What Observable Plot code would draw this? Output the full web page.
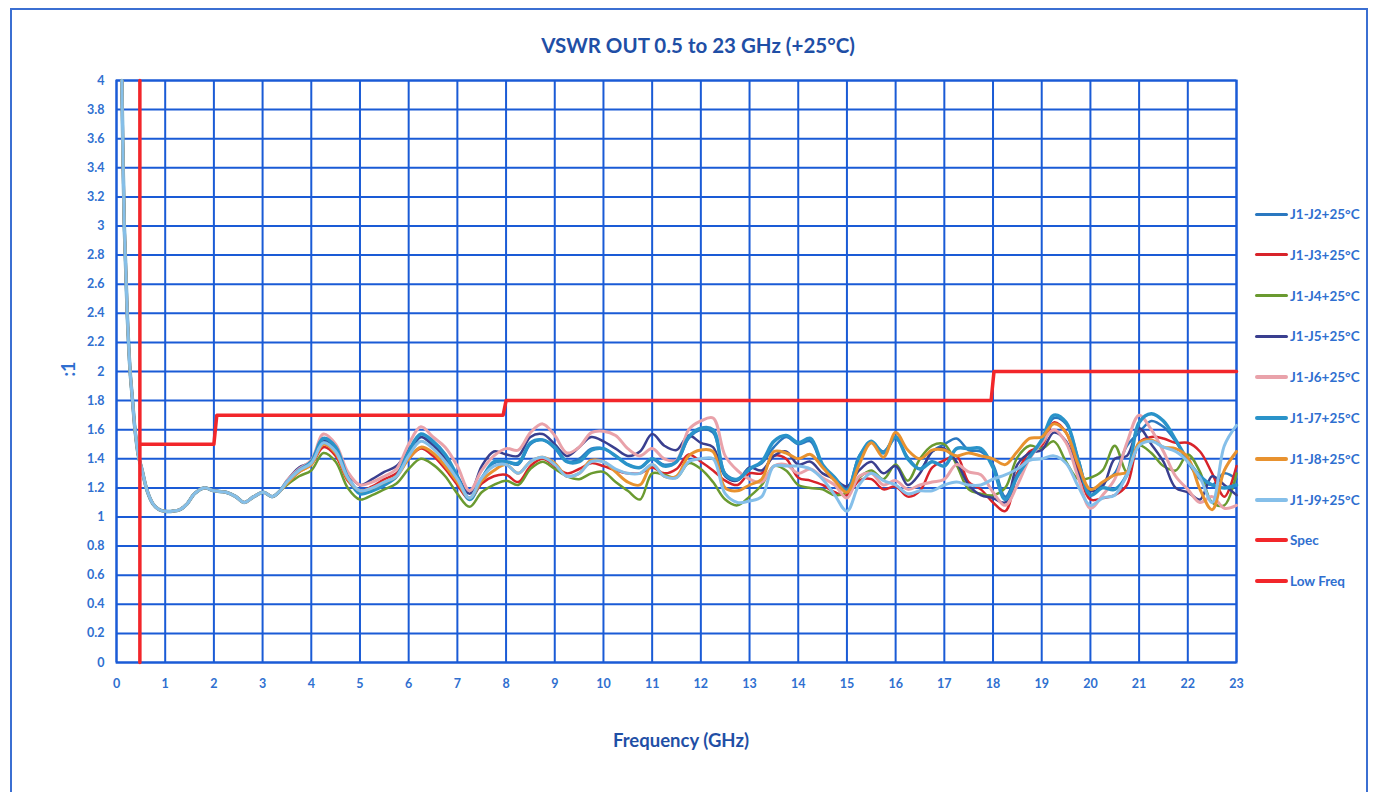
<!DOCTYPE html>
<html>
<head>
<meta charset="utf-8">
<script src="https://cdn.jsdelivr.net/npm/d3@7"></script>
<script src="https://cdn.jsdelivr.net/npm/@observablehq/plot@0.6"></script>
<style>
  html, body { margin: 0; padding: 0; background: #fff; }
  #wrap { position: relative; width: 1380px; height: 792px; overflow: hidden; font-family: Lato, "Open Sans", sans-serif; }
  #border { position: absolute; left: 10px; top: 8px; width: 1358px; height: 800px; border: 2px solid #3b6fd2; box-sizing: border-box; }
  #title { position: absolute; top: 33px; left: 0; width: 1396px; text-align: center; font-weight: 700; font-size: 20.5px; color: #1f4fa6; }
  #xlabel { position: absolute; top: 729px; left: 0; width: 1362px; text-align: center; font-weight: 700; font-size: 18.5px; color: #1f4fa6; }
  #ylabel { position: absolute; left: 60px; top: 358px; transform: rotate(-90deg); font-weight: 700; font-size: 18px; color: #2f6fd0; }
  #plot { position: absolute; left: 0; top: 0; }
  #plot svg text { font-family: Lato, "Open Sans", sans-serif; font-weight: 700; }
  .lg { position: absolute; left: 1255px; height: 16px; display: flex; align-items: center; font-size: 13.5px; font-weight: 700; color: #2f6fd0; white-space: nowrap; }
  .lg i { display: inline-block; width: 33px; margin-right: 2px; border-radius: 2px; }
  #warn { position: absolute; left: 20px; top: 760px; color: red; font-size: 14px; }
</style>
</head>
<body>
<div id="wrap">
  <div id="border"></div>
  <div id="title">VSWR OUT 0.5 to 23 GHz (+25°C)</div>
  <div id="plot"></div>
  <div id="ylabel">:1</div>
  <div id="xlabel">Frequency (GHz)</div>
  <div id="legend"></div>
  <div id="warn"></div>
</div>
<script>
// ---------- data ----------
const xTicks = [0,1,2,3,4,5,6,7,8,9,10,11,12,13,14,15,16,17,18,19,20,21,22,23];
const yTicks = [0,0.2,0.4,0.6,0.8,1,1.2,1.4,1.6,1.8,2,2.2,2.4,2.6,2.8,3,3.2,3.4,3.6,3.8,4];

// shared low-frequency part (all traces overlap)
const baseF = [0.11,0.16,0.22,0.28,0.33,0.38,0.45,0.52,0.63,0.75,0.88,1.0,1.15,1.3,1.45,1.6,1.8,2.0,2.25,2.45,2.62,2.82,3.02,3.2,3.36];
const baseV = [4.0,3.0,2.4,2.0,1.8,1.6,1.42,1.33,1.18,1.09,1.05,1.04,1.04,1.05,1.09,1.16,1.20,1.18,1.17,1.14,1.10,1.14,1.17,1.14,1.18];

const freq = [3.5,3.75,4,4.25,4.5,4.75,5,5.25,5.5,5.75,6,6.25,6.5,6.75,7,7.25,7.5,7.75,8,8.25,8.5,8.75,9,9.25,9.5,9.75,10,10.25,10.5,10.75,11,11.25,11.5,11.75,12,12.25,12.5,12.75,13,13.25,13.5,13.75,14,14.25,14.5,14.75,15,15.25,15.5,15.75,16,16.25,16.5,16.75,17,17.25,17.5,17.75,18,18.25,18.5,18.75,19,19.25,19.5,19.75,20,20.25,20.5,20.75,21,21.25,21.5,21.75,22,22.25,22.5,22.75,23];

const J2 = [1.24,1.32,1.37,1.52,1.46,1.28,1.17,1.19,1.23,1.28,1.42,1.55,1.50,1.40,1.27,1.13,1.27,1.37,1.38,1.36,1.50,1.53,1.47,1.38,1.40,1.47,1.47,1.42,1.36,1.34,1.40,1.36,1.38,1.54,1.60,1.58,1.30,1.26,1.33,1.37,1.48,1.55,1.50,1.52,1.35,1.27,1.19,1.42,1.51,1.45,1.54,1.41,1.33,1.45,1.50,1.54,1.46,1.45,1.36,1.14,1.30,1.42,1.52,1.68,1.64,1.40,1.15,1.23,1.30,1.49,1.58,1.66,1.62,1.52,1.38,1.26,1.22,1.30,1.26];
const J3 = [1.23,1.31,1.36,1.48,1.42,1.25,1.18,1.21,1.26,1.30,1.40,1.47,1.42,1.33,1.22,1.12,1.23,1.28,1.29,1.24,1.35,1.40,1.35,1.30,1.33,1.37,1.35,1.32,1.30,1.30,1.34,1.30,1.33,1.43,1.38,1.32,1.25,1.22,1.30,1.30,1.42,1.40,1.27,1.25,1.22,1.17,1.15,1.25,1.26,1.19,1.21,1.14,1.18,1.34,1.39,1.42,1.24,1.19,1.10,1.04,1.30,1.45,1.49,1.65,1.58,1.33,1.12,1.13,1.15,1.22,1.51,1.55,1.54,1.51,1.51,1.45,1.30,1.14,1.35];
const J4 = [1.22,1.28,1.32,1.44,1.38,1.20,1.12,1.15,1.19,1.23,1.33,1.40,1.36,1.28,1.16,1.07,1.17,1.22,1.25,1.22,1.33,1.38,1.33,1.28,1.26,1.30,1.31,1.24,1.18,1.12,1.30,1.29,1.27,1.37,1.33,1.24,1.12,1.08,1.14,1.22,1.35,1.32,1.22,1.20,1.19,1.15,1.17,1.27,1.32,1.26,1.36,1.25,1.40,1.49,1.50,1.36,1.19,1.16,1.15,1.20,1.41,1.49,1.47,1.52,1.38,1.26,1.27,1.32,1.49,1.31,1.49,1.44,1.35,1.32,1.43,1.31,1.10,1.08,1.30];
const J5 = [1.25,1.34,1.38,1.53,1.48,1.30,1.22,1.26,1.31,1.35,1.46,1.55,1.49,1.40,1.28,1.16,1.35,1.45,1.43,1.42,1.55,1.57,1.50,1.42,1.48,1.55,1.52,1.47,1.42,1.45,1.57,1.49,1.46,1.56,1.51,1.48,1.28,1.25,1.34,1.32,1.42,1.45,1.36,1.38,1.30,1.26,1.21,1.32,1.38,1.30,1.35,1.22,1.30,1.45,1.47,1.38,1.22,1.15,1.13,1.10,1.36,1.44,1.46,1.58,1.52,1.30,1.18,1.21,1.40,1.42,1.61,1.50,1.38,1.20,1.17,1.12,1.28,1.22,1.15];
const J6 = [1.25,1.33,1.39,1.57,1.50,1.31,1.22,1.24,1.28,1.33,1.50,1.62,1.55,1.48,1.35,1.18,1.32,1.42,1.47,1.46,1.58,1.64,1.56,1.44,1.48,1.58,1.59,1.56,1.47,1.42,1.47,1.40,1.39,1.60,1.66,1.68,1.42,1.32,1.26,1.24,1.35,1.36,1.30,1.33,1.27,1.22,1.13,1.28,1.30,1.22,1.25,1.19,1.22,1.24,1.26,1.36,1.31,1.29,1.17,1.08,1.22,1.40,1.51,1.60,1.51,1.27,1.06,1.15,1.26,1.51,1.70,1.60,1.45,1.28,1.19,1.10,1.14,1.06,1.08];
const J7 = [1.24,1.32,1.38,1.54,1.48,1.27,1.16,1.18,1.22,1.28,1.45,1.57,1.52,1.43,1.28,1.12,1.26,1.38,1.38,1.37,1.51,1.53,1.48,1.38,1.38,1.46,1.47,1.42,1.36,1.34,1.40,1.35,1.38,1.55,1.61,1.60,1.29,1.26,1.33,1.38,1.52,1.56,1.51,1.54,1.36,1.27,1.18,1.41,1.52,1.44,1.55,1.40,1.33,1.38,1.35,1.47,1.47,1.47,1.34,1.12,1.28,1.41,1.53,1.70,1.65,1.39,1.15,1.20,1.19,1.29,1.65,1.71,1.66,1.53,1.39,1.28,1.22,1.20,1.22];
const J8 = [1.23,1.31,1.36,1.50,1.44,1.26,1.18,1.20,1.24,1.28,1.40,1.48,1.44,1.35,1.24,1.13,1.25,1.32,1.36,1.30,1.38,1.41,1.37,1.28,1.30,1.39,1.38,1.31,1.24,1.22,1.36,1.28,1.28,1.42,1.46,1.45,1.20,1.18,1.22,1.26,1.45,1.44,1.40,1.43,1.34,1.25,1.17,1.36,1.51,1.41,1.58,1.46,1.40,1.46,1.46,1.42,1.44,1.42,1.40,1.36,1.45,1.54,1.55,1.64,1.58,1.36,1.19,1.24,1.29,1.31,1.51,1.53,1.48,1.47,1.41,1.19,1.05,1.32,1.45];
const J9 = [1.24,1.32,1.37,1.51,1.45,1.27,1.18,1.20,1.24,1.28,1.42,1.52,1.47,1.38,1.26,1.13,1.27,1.35,1.36,1.30,1.38,1.41,1.36,1.28,1.30,1.38,1.38,1.33,1.30,1.30,1.36,1.28,1.27,1.38,1.40,1.40,1.16,1.10,1.11,1.14,1.35,1.35,1.35,1.33,1.26,1.15,1.04,1.22,1.30,1.25,1.22,1.16,1.18,1.18,1.22,1.24,1.22,1.22,1.26,1.29,1.33,1.39,1.40,1.42,1.37,1.21,1.08,1.13,1.15,1.29,1.49,1.52,1.48,1.45,1.38,1.27,1.10,1.49,1.63];

const seriesNames = ["J1-J2+25°C","J1-J3+25°C","J1-J4+25°C","J1-J5+25°C","J1-J6+25°C","J1-J7+25°C","J1-J8+25°C","J1-J9+25°C"];
const seriesValues = [J2,J3,J4,J5,J6,J7,J8,J9];
const seriesColors = ["#2a78c0","#d8232a","#6a9a30","#3a3f8f","#e9a2aa","#2a93c9","#e8922f","#85bfe9"];
const seriesWidths = [2.5,2.5,2.5,2.5,3,3.5,3,3];

// spec limit and low-frequency marker
const specF = [0.5,2.0,2.06,7.94,8.0,17.96,18.02,23];
const specV = [1.5,1.5,1.7,1.7,1.8,1.8,2.0,2.0];
const lowF = [0.48,0.48];
const lowV = [0,4];
const specColor = "#f2262a";

// ---------- build ----------
const bad = seriesValues.map((v,i)=> v.length!==freq.length ? seriesNames[i]+":"+v.length : null).filter(Boolean);
if (bad.length) document.getElementById("warn").textContent = "length mismatch " + bad.join(", ");

const gridColor = "#1a5bd6";
const marks = [
  Plot.gridX(xTicks, {stroke: gridColor, strokeOpacity: 1, strokeWidth: 2}),
  Plot.gridY(yTicks, {stroke: gridColor, strokeOpacity: 1, strokeWidth: 2}),
  Plot.frame({stroke: gridColor, strokeWidth: 2}),
  Plot.axisX(xTicks, {tickSize: 0, tickPadding: 17, fontSize: 12.5, fill: "#2f6fd0", label: null, tickFormat: d => String(d)}),
  Plot.axisY(yTicks, {tickSize: 0, tickPadding: 12, fontSize: 12.5, fill: "#2f6fd0", label: null, tickFormat: d => String(+d.toFixed(1))})
];
seriesValues.forEach((vals, k) => {
  const pts = baseF.map((f,i)=>({f, v: baseV[i]})).concat(freq.map((f,i)=>({f, v: vals[i]})));
  marks.push(Plot.line(pts, {x: "f", y: "v", stroke: seriesColors[k], strokeWidth: seriesWidths[k], curve: "catmull-rom", strokeLinejoin: "round"}));
});
marks.push(Plot.line(specF.map((f,i)=>({f, v: specV[i]})), {x: "f", y: "v", stroke: specColor, strokeWidth: 3.5}));
marks.push(Plot.line(lowF.map((f,i)=>({f, v: lowV[i]})), {x: "f", y: "v", stroke: specColor, strokeWidth: 3.5}));

const chart = Plot.plot({
  width: 1380,
  height: 700,
  marginLeft: 116,
  marginRight: 144,
  marginTop: 80,
  marginBottom: 38,
  x: {domain: [0, 23]},
  y: {domain: [0, 4]},
  style: {background: "transparent", overflow: "visible"},
  marks
});
document.getElementById("plot").appendChild(chart);

// legend
const legendNames = seriesNames.concat(["Spec","Low Freq"]);
const legendColors = seriesColors.concat([specColor, specColor]);
const legendWidths = [3,3,3,3,4,4,4,4,4,4];
const lg = document.getElementById("legend");
legendNames.forEach((n,i)=>{
  const d = document.createElement("div");
  d.className = "lg";
  d.style.top = (206 + i*40.8) + "px";
  d.innerHTML = `<i style="height:${legendWidths[i]}px;background:${legendColors[i]}"></i>${n}`;
  lg.appendChild(d);
});
</script>
</body>
</html>
